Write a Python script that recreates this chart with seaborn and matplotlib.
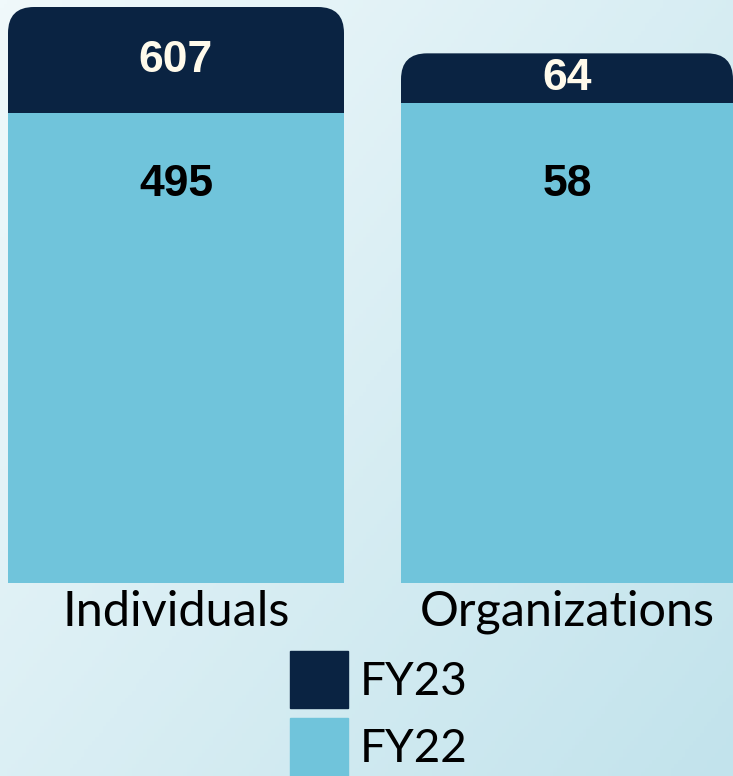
import numpy as np
import pandas as pd
import seaborn as sns
import matplotlib.pyplot as plt
from matplotlib.patches import FancyBboxPatch, Patch
from matplotlib.colors import LinearSegmentedColormap

categories = ['Individuals', 'Organizations']
fy23 = [607, 64]
fy22 = [495, 58]
ylim_top = [607, 69.6]

dark = '#0a2342'
light = '#70c4db'
cream = '#fffaeb'

sns.set_theme(style='white')
plt.rcParams['font.family'] = ['Lato', 'DejaVu Sans']

W, H = 733, 776
fig = plt.figure(figsize=(W / 100, H / 100), dpi=100)

# gradient background
bg = fig.add_axes([0, 0, 1, 1], zorder=-10)
gx, gy = np.meshgrid(np.linspace(0, 1, 200), np.linspace(0, 1, 200))
grad = (gx * 0.55 + gy * 0.45)
cmap = LinearSegmentedColormap.from_list('bg', ['#f0f9fb', '#c2e3ec'])
bg.imshow(grad, cmap=cmap, aspect='auto', extent=[0, 1, 0, 1], origin='upper')
bg.axis('off')

boxes = [(8, 336), (401, 332)]
bottom_px, top_px = 583, 7

for i, cat in enumerate(categories):
    left, width = boxes[i]
    ax = fig.add_axes([left / W, (H - bottom_px) / H, width / W, (bottom_px - top_px) / H])
    ax.set_facecolor('none')
    df = pd.DataFrame({'cat': [cat], 'fy23': [fy23[i]], 'fy22': [fy22[i]]})
    sns.barplot(data=df, x='cat', y='fy23', color=dark, width=1, saturation=1, linewidth=0, ax=ax)
    ax.set_xlim(-0.5, 0.5)
    ax.set_ylim(0, ylim_top[i])

    # swap the FY23 bar for a rounded one
    p = ax.patches[0]
    x0, w, h = p.get_x(), p.get_width(), p.get_height()
    p.remove()
    xpp = 1.0 / width
    ypp = ylim_top[i] / (bottom_px - top_px)
    r = 26
    ax.add_patch(FancyBboxPatch((x0, 0), w, h,
                                boxstyle=f'round,pad=0,rounding_size={r * xpp}',
                                mutation_aspect=ypp / xpp, fc=dark, ec='none', lw=0, zorder=1))

    sns.barplot(data=df, x='cat', y='fy22', color=light, width=1, saturation=1, linewidth=0,
                ax=ax, zorder=2)
    ax.set_xlim(-0.5, 0.5)
    ax.set_ylim(0, ylim_top[i])

    ax.text(0, (fy23[i] + fy22[i]) / 2, str(fy23[i]), ha='center', va='center',
            color=cream, fontsize=32, fontweight='bold', family='Liberation Sans', zorder=3)
    ax.text(0.5, 0.692, str(fy22[i]), transform=ax.transAxes, ha='center', va='center',
            color='black', fontsize=32, fontweight='bold', family='Liberation Sans', zorder=3)

    ax.set_xlabel('')
    ax.set_ylabel('')
    ax.set_yticks([])
    ax.tick_params(axis='x', length=0, pad=5, labelsize=35, labelcolor='black')
    sns.despine(ax=ax, left=True, bottom=True)

handles = [Patch(color=dark, label='FY23'), Patch(color=light, label='FY22')]
fig.legend(handles=handles, loc='upper left', bbox_to_anchor=(290 / W, 1 - 651 / H),
           frameon=False, fontsize=33, labelcolor='black', handlelength=1.27, handleheight=1.55,
           handletextpad=0.25, labelspacing=0.22, borderpad=0, borderaxespad=0)

fig.savefig('out.png', dpi=100)
